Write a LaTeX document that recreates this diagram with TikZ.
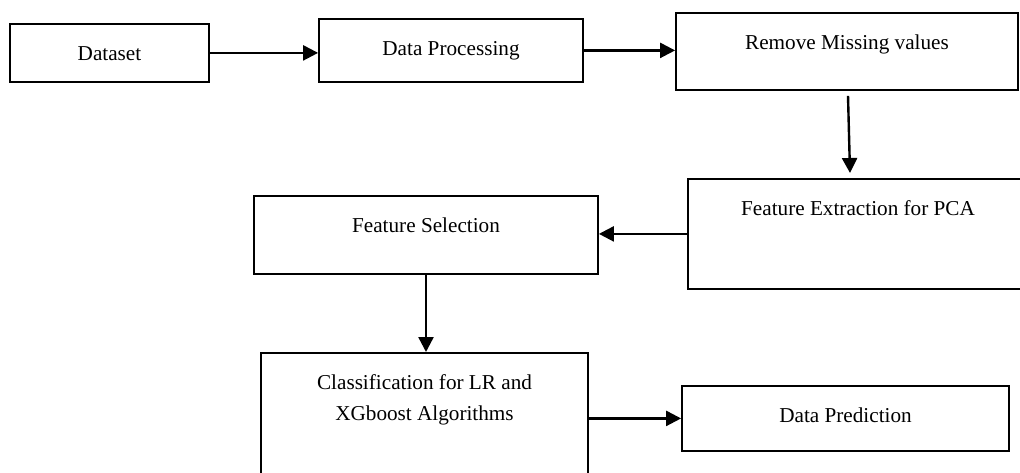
\documentclass[tikz,border=0pt]{standalone}
\usepackage{fontspec}
\setmainfont{Liberation Serif}
\usepackage{tikz}
\usetikzlibrary{positioning,arrows.meta,calc}

\begin{document}
\begin{tikzpicture}[
  x=0.5pt, y=-0.5pt,
  block/.style={rectangle, draw, line width=0.9pt, anchor=north, inner sep=0pt,
                text height=18.5pt, align=center, font=\fontsize{10.6}{15.5}\selectfont},
  arr/.style={-{Triangle[length=7.5pt, width=7.5pt]}, line width=1.2pt}
]
\useasboundingbox (0,0) rectangle (1020,472);
\node[block, minimum width=99.5pt, text depth=10.5pt] (data) at (109.5,23) {Dataset};
\node[block, minimum width=132pt, text depth=13pt]  (proc) at (451,18)  {Data Processing};
\node[block, minimum width=171pt, text depth=20pt]  (miss) at (847,12)  {Remove Missing values};
\node[block, minimum width=170pt, text depth=36.5pt] (feat) at (858,178) {Feature Extraction for PCA};
\node[block, minimum width=172pt, text depth=20.5pt] (sel)  at (426,195) {Feature Selection};
\node[block, minimum width=163.5pt, text height=34pt, text depth=35.5pt] (cls) at (424.5,352)
  {Classification for LR and\\XGboost Algorithms};
\node[block, minimum width=163.5pt, text depth=14pt] (pred) at (845.5,385) {Data Prediction};
\draw[arr](data.east)--(data.east -| proc.west);\draw[arr](proc.east)--(proc.east -| miss.west);
\draw[arr]([shift={(1,5)}]miss.south)--([shift={(-8,-5)}]feat.north);
\draw[arr](feat.west)--(feat.west -| sel.east);\draw[arr](sel.south)--(sel.south |- cls.north);
\draw[arr](pred.west -| cls.east)--(pred.west);
\end{tikzpicture}
\end{document}
